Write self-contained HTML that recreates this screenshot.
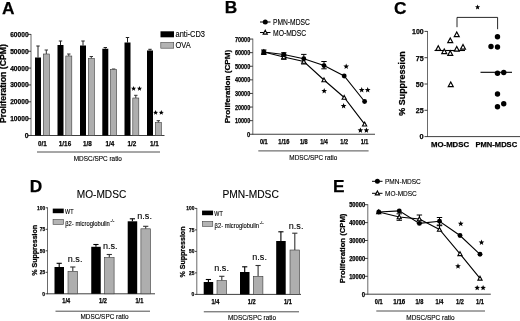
<!DOCTYPE html>
<html><head><meta charset="utf-8"><style>
html,body{margin:0;padding:0;background:#fff;}
body{width:520px;height:321px;overflow:hidden;font-family:"Liberation Sans",sans-serif;}
svg{display:block;will-change:transform;}
</style></head><body>
<svg width="520" height="321" viewBox="0 0 520 321">
<rect x="0" y="0" width="520" height="321" fill="#fff"/>
<text x="1.9" y="14" font-size="17.3" font-family="Liberation Sans, sans-serif" text-anchor="start" fill="#000" font-weight="bold" stroke="#000" stroke-width="0.25" >A</text>
<line x1="31" y1="33.99999999999999" x2="31" y2="135.9" stroke="#444" stroke-width="0.8"/>
<line x1="28" y1="135.5" x2="164.5" y2="135.5" stroke="#2a2a2a" stroke-width="0.9"/>
<text x="28.6" y="137.9" font-size="7.4" font-family="Liberation Sans, sans-serif" text-anchor="end" fill="#000" font-weight="bold" stroke="#000" stroke-width="0.25" textLength="3.8" lengthAdjust="spacingAndGlyphs" >0</text>
<line x1="28" y1="118.65" x2="31" y2="118.65" stroke="#2a2a2a" stroke-width="0.9"/>
<text x="28.6" y="121.05000000000001" font-size="7.4" font-family="Liberation Sans, sans-serif" text-anchor="end" fill="#000" font-weight="bold" stroke="#000" stroke-width="0.25" textLength="18.4" lengthAdjust="spacingAndGlyphs" >10000</text>
<line x1="28" y1="101.8" x2="31" y2="101.8" stroke="#2a2a2a" stroke-width="0.9"/>
<text x="28.6" y="104.2" font-size="7.4" font-family="Liberation Sans, sans-serif" text-anchor="end" fill="#000" font-weight="bold" stroke="#000" stroke-width="0.25" textLength="18.4" lengthAdjust="spacingAndGlyphs" >20000</text>
<line x1="28" y1="84.94999999999999" x2="31" y2="84.94999999999999" stroke="#2a2a2a" stroke-width="0.9"/>
<text x="28.6" y="87.35" font-size="7.4" font-family="Liberation Sans, sans-serif" text-anchor="end" fill="#000" font-weight="bold" stroke="#000" stroke-width="0.25" textLength="18.4" lengthAdjust="spacingAndGlyphs" >30000</text>
<line x1="28" y1="68.1" x2="31" y2="68.1" stroke="#2a2a2a" stroke-width="0.9"/>
<text x="28.6" y="70.5" font-size="7.4" font-family="Liberation Sans, sans-serif" text-anchor="end" fill="#000" font-weight="bold" stroke="#000" stroke-width="0.25" textLength="18.4" lengthAdjust="spacingAndGlyphs" >40000</text>
<line x1="28" y1="51.25" x2="31" y2="51.25" stroke="#2a2a2a" stroke-width="0.9"/>
<text x="28.6" y="53.65" font-size="7.4" font-family="Liberation Sans, sans-serif" text-anchor="end" fill="#000" font-weight="bold" stroke="#000" stroke-width="0.25" textLength="18.4" lengthAdjust="spacingAndGlyphs" >50000</text>
<line x1="28" y1="34.39999999999999" x2="31" y2="34.39999999999999" stroke="#2a2a2a" stroke-width="0.9"/>
<text x="28.6" y="36.79999999999999" font-size="7.4" font-family="Liberation Sans, sans-serif" text-anchor="end" fill="#000" font-weight="bold" stroke="#000" stroke-width="0.25" textLength="18.4" lengthAdjust="spacingAndGlyphs" >60000</text>
<text x="5.7" y="123" font-size="8.2" font-family="Liberation Sans, sans-serif" text-anchor="start" fill="#000" font-weight="bold" stroke="#000" stroke-width="0.25" textLength="79" lengthAdjust="spacingAndGlyphs" transform="rotate(-90 5.7 123)" >Proliferation (CPM)</text>
<line x1="38" y1="46" x2="38" y2="57.5" stroke="#222" stroke-width="1.0"/>
<line x1="36.3" y1="46" x2="39.7" y2="46" stroke="#222" stroke-width="1.0"/>
<rect x="35" y="57.5" width="6" height="78.0" fill="#000"/>
<line x1="46.3" y1="50" x2="46.3" y2="54" stroke="#333" stroke-width="1.0"/>
<line x1="44.599999999999994" y1="50" x2="48.0" y2="50" stroke="#333" stroke-width="1.0"/>
<rect x="43.3" y="54" width="6" height="81.5" fill="#aeaeae" stroke="#3a3a3a" stroke-width="0.6"/>
<line x1="60.5" y1="41" x2="60.5" y2="45" stroke="#222" stroke-width="1.0"/>
<line x1="58.8" y1="41" x2="62.2" y2="41" stroke="#222" stroke-width="1.0"/>
<rect x="57.5" y="45" width="6" height="90.5" fill="#000"/>
<line x1="68.8" y1="54" x2="68.8" y2="56" stroke="#333" stroke-width="1.0"/>
<line x1="67.1" y1="54" x2="70.5" y2="54" stroke="#333" stroke-width="1.0"/>
<rect x="65.8" y="56" width="6" height="79.5" fill="#aeaeae" stroke="#3a3a3a" stroke-width="0.6"/>
<line x1="83" y1="41" x2="83" y2="45.5" stroke="#222" stroke-width="1.0"/>
<line x1="81.3" y1="41" x2="84.7" y2="41" stroke="#222" stroke-width="1.0"/>
<rect x="80" y="45.5" width="6" height="90.0" fill="#000"/>
<line x1="91.3" y1="56.5" x2="91.3" y2="58.5" stroke="#333" stroke-width="1.0"/>
<line x1="89.6" y1="56.5" x2="93.0" y2="56.5" stroke="#333" stroke-width="1.0"/>
<rect x="88.3" y="58.5" width="6" height="77.0" fill="#aeaeae" stroke="#3a3a3a" stroke-width="0.6"/>
<line x1="105.3" y1="47.5" x2="105.3" y2="48.75" stroke="#222" stroke-width="1.0"/>
<line x1="103.6" y1="47.5" x2="107.0" y2="47.5" stroke="#222" stroke-width="1.0"/>
<rect x="102.3" y="48.75" width="6" height="86.75" fill="#000"/>
<line x1="113.6" y1="69" x2="113.6" y2="69.5" stroke="#333" stroke-width="1.0"/>
<line x1="111.89999999999999" y1="69" x2="115.3" y2="69" stroke="#333" stroke-width="1.0"/>
<rect x="110.6" y="69.5" width="6" height="66.0" fill="#aeaeae" stroke="#3a3a3a" stroke-width="0.6"/>
<line x1="127.5" y1="37.5" x2="127.5" y2="42.5" stroke="#222" stroke-width="1.0"/>
<line x1="125.8" y1="37.5" x2="129.2" y2="37.5" stroke="#222" stroke-width="1.0"/>
<rect x="124.5" y="42.5" width="6" height="93.0" fill="#000"/>
<line x1="135.8" y1="95.3" x2="135.8" y2="98" stroke="#333" stroke-width="1.0"/>
<line x1="134.10000000000002" y1="95.3" x2="137.5" y2="95.3" stroke="#333" stroke-width="1.0"/>
<rect x="132.8" y="98" width="6" height="37.5" fill="#aeaeae" stroke="#3a3a3a" stroke-width="0.6"/>
<line x1="150" y1="49.3" x2="150" y2="50.5" stroke="#222" stroke-width="1.0"/>
<line x1="148.3" y1="49.3" x2="151.7" y2="49.3" stroke="#222" stroke-width="1.0"/>
<rect x="147" y="50.5" width="6" height="85.0" fill="#000"/>
<line x1="158.3" y1="120.7" x2="158.3" y2="122.5" stroke="#333" stroke-width="1.0"/>
<line x1="156.60000000000002" y1="120.7" x2="160.0" y2="120.7" stroke="#333" stroke-width="1.0"/>
<rect x="155.3" y="122.5" width="6" height="13.0" fill="#aeaeae" stroke="#3a3a3a" stroke-width="0.6"/>
<text x="42.5" y="145.9" font-size="7.6" font-family="Liberation Sans, sans-serif" text-anchor="middle" fill="#000" font-weight="bold" stroke="#000" stroke-width="0.25" textLength="8.8" lengthAdjust="spacingAndGlyphs" >0/1</text>
<text x="65.0" y="145.9" font-size="7.6" font-family="Liberation Sans, sans-serif" text-anchor="middle" fill="#000" font-weight="bold" stroke="#000" stroke-width="0.25" textLength="12.4" lengthAdjust="spacingAndGlyphs" >1/16</text>
<text x="87.5" y="145.9" font-size="7.6" font-family="Liberation Sans, sans-serif" text-anchor="middle" fill="#000" font-weight="bold" stroke="#000" stroke-width="0.25" textLength="8.8" lengthAdjust="spacingAndGlyphs" >1/8</text>
<text x="109.8" y="145.9" font-size="7.6" font-family="Liberation Sans, sans-serif" text-anchor="middle" fill="#000" font-weight="bold" stroke="#000" stroke-width="0.25" textLength="8.8" lengthAdjust="spacingAndGlyphs" >1/4</text>
<text x="132.0" y="145.9" font-size="7.6" font-family="Liberation Sans, sans-serif" text-anchor="middle" fill="#000" font-weight="bold" stroke="#000" stroke-width="0.25" textLength="8.8" lengthAdjust="spacingAndGlyphs" >1/2</text>
<text x="154.5" y="145.9" font-size="7.6" font-family="Liberation Sans, sans-serif" text-anchor="middle" fill="#000" font-weight="bold" stroke="#000" stroke-width="0.25" textLength="8.8" lengthAdjust="spacingAndGlyphs" >1/1</text>
<line x1="37" y1="152" x2="160" y2="152" stroke="#222" stroke-width="0.8"/>
<text x="73.75" y="160.5" font-size="6.6" font-family="Liberation Sans, sans-serif" text-anchor="start" fill="#000" stroke="#000" stroke-width="0.12" textLength="48.2" lengthAdjust="spacingAndGlyphs" >MDSC/SPC ratio</text>
<polygon points="133.60,85.95 134.29,87.66 136.12,87.78 134.71,88.96 135.16,90.74 133.60,89.77 132.04,90.74 132.49,88.96 131.08,87.78 132.91,87.66" fill="#000"/>
<polygon points="139.50,85.95 140.19,87.66 142.02,87.78 140.61,88.96 141.06,90.74 139.50,89.77 137.94,90.74 138.39,88.96 136.98,87.78 138.81,87.66" fill="#000"/>
<polygon points="155.60,110.05 156.29,111.76 158.12,111.88 156.71,113.06 157.16,114.84 155.60,113.87 154.04,114.84 154.49,113.06 153.08,111.88 154.91,111.76" fill="#000"/>
<polygon points="161.30,110.05 161.99,111.76 163.82,111.88 162.41,113.06 162.86,114.84 161.30,113.87 159.74,114.84 160.19,113.06 158.78,111.88 160.61,111.76" fill="#000"/>
<rect x="160.5" y="31.3" width="13.5" height="6" fill="#000"/>
<rect x="160.8" y="42.6" width="12.9" height="5.6" fill="#b4b4b4" stroke="#444" stroke-width="0.6"/>
<text x="175.5" y="37.4" font-size="8.6" font-family="Liberation Sans, sans-serif" text-anchor="start" fill="#000" stroke="#000" stroke-width="0.12" textLength="29.5" lengthAdjust="spacingAndGlyphs" >anti-CD3</text>
<text x="175.5" y="48.3" font-size="8.6" font-family="Liberation Sans, sans-serif" text-anchor="start" fill="#000" stroke="#000" stroke-width="0.12" textLength="15.2" lengthAdjust="spacingAndGlyphs" >OVA</text>
<text x="224.7" y="13.1" font-size="17.3" font-family="Liberation Sans, sans-serif" text-anchor="start" fill="#000" font-weight="bold" stroke="#000" stroke-width="0.25" >B</text>
<line x1="252.8" y1="38.65" x2="252.8" y2="134.65" stroke="#444" stroke-width="0.8"/>
<line x1="249.8" y1="134.25" x2="375" y2="134.25" stroke="#2a2a2a" stroke-width="0.9"/>
<text x="250.2" y="136.85" font-size="7" font-family="Liberation Sans, sans-serif" text-anchor="end" fill="#000" font-weight="bold" stroke="#000" stroke-width="0.25" textLength="3.2" lengthAdjust="spacingAndGlyphs" >0</text>
<line x1="249.8" y1="120.65" x2="252.8" y2="120.65" stroke="#2a2a2a" stroke-width="0.9"/>
<text x="250.2" y="123.25" font-size="7" font-family="Liberation Sans, sans-serif" text-anchor="end" fill="#000" font-weight="bold" stroke="#000" stroke-width="0.25" textLength="15.2" lengthAdjust="spacingAndGlyphs" >10000</text>
<line x1="249.8" y1="107.05" x2="252.8" y2="107.05" stroke="#2a2a2a" stroke-width="0.9"/>
<text x="250.2" y="109.64999999999999" font-size="7" font-family="Liberation Sans, sans-serif" text-anchor="end" fill="#000" font-weight="bold" stroke="#000" stroke-width="0.25" textLength="15.2" lengthAdjust="spacingAndGlyphs" >20000</text>
<line x1="249.8" y1="93.45" x2="252.8" y2="93.45" stroke="#2a2a2a" stroke-width="0.9"/>
<text x="250.2" y="96.05" font-size="7" font-family="Liberation Sans, sans-serif" text-anchor="end" fill="#000" font-weight="bold" stroke="#000" stroke-width="0.25" textLength="15.2" lengthAdjust="spacingAndGlyphs" >30000</text>
<line x1="249.8" y1="79.85" x2="252.8" y2="79.85" stroke="#2a2a2a" stroke-width="0.9"/>
<text x="250.2" y="82.44999999999999" font-size="7" font-family="Liberation Sans, sans-serif" text-anchor="end" fill="#000" font-weight="bold" stroke="#000" stroke-width="0.25" textLength="15.2" lengthAdjust="spacingAndGlyphs" >40000</text>
<line x1="249.8" y1="66.25" x2="252.8" y2="66.25" stroke="#2a2a2a" stroke-width="0.9"/>
<text x="250.2" y="68.85" font-size="7" font-family="Liberation Sans, sans-serif" text-anchor="end" fill="#000" font-weight="bold" stroke="#000" stroke-width="0.25" textLength="15.2" lengthAdjust="spacingAndGlyphs" >50000</text>
<line x1="249.8" y1="52.650000000000006" x2="252.8" y2="52.650000000000006" stroke="#2a2a2a" stroke-width="0.9"/>
<text x="250.2" y="55.25000000000001" font-size="7" font-family="Liberation Sans, sans-serif" text-anchor="end" fill="#000" font-weight="bold" stroke="#000" stroke-width="0.25" textLength="15.2" lengthAdjust="spacingAndGlyphs" >60000</text>
<line x1="249.8" y1="39.05" x2="252.8" y2="39.05" stroke="#2a2a2a" stroke-width="0.9"/>
<text x="250.2" y="41.65" font-size="7" font-family="Liberation Sans, sans-serif" text-anchor="end" fill="#000" font-weight="bold" stroke="#000" stroke-width="0.25" textLength="15.2" lengthAdjust="spacingAndGlyphs" >70000</text>
<text x="230.3" y="123.3" font-size="7.6" font-family="Liberation Sans, sans-serif" text-anchor="start" fill="#000" font-weight="bold" stroke="#000" stroke-width="0.25" textLength="73.5" lengthAdjust="spacingAndGlyphs" transform="rotate(-90 230.3 123.3)" >Proliferation (CPM)</text>
<polyline points="263.8,52 283.8,54.5 303.8,58.8 324,65.6 344.2,76 364.6,101.5" fill="none" stroke="#000" stroke-width="1.1"/>
<polyline points="263.8,52 283.8,57 303.8,61.5 324,80 344.2,97.5 364.6,124.2" fill="none" stroke="#000" stroke-width="1.1"/>
<line x1="263.8" y1="50" x2="263.8" y2="54.5" stroke="#000" stroke-width="1.0"/>
<line x1="261.1" y1="50" x2="266.5" y2="50" stroke="#000" stroke-width="1.0"/>
<line x1="261.1" y1="54.5" x2="266.5" y2="54.5" stroke="#000" stroke-width="1.0"/>
<line x1="283.8" y1="52.8" x2="283.8" y2="56.2" stroke="#000" stroke-width="1.0"/>
<line x1="281.1" y1="52.8" x2="286.5" y2="52.8" stroke="#000" stroke-width="1.0"/>
<line x1="281.1" y1="56.2" x2="286.5" y2="56.2" stroke="#000" stroke-width="1.0"/>
<line x1="283.8" y1="55.3" x2="283.8" y2="59.3" stroke="#000" stroke-width="1.0"/>
<line x1="281.1" y1="55.3" x2="286.5" y2="55.3" stroke="#000" stroke-width="1.0"/>
<line x1="281.1" y1="59.3" x2="286.5" y2="59.3" stroke="#000" stroke-width="1.0"/>
<line x1="303.8" y1="54.4" x2="303.8" y2="64" stroke="#000" stroke-width="1.0"/>
<line x1="301.1" y1="54.4" x2="306.5" y2="54.4" stroke="#000" stroke-width="1.0"/>
<line x1="301.1" y1="64" x2="306.5" y2="64" stroke="#000" stroke-width="1.0"/>
<line x1="324" y1="61.5" x2="324" y2="68.8" stroke="#000" stroke-width="1.0"/>
<line x1="321.3" y1="61.5" x2="326.7" y2="61.5" stroke="#000" stroke-width="1.0"/>
<line x1="321.3" y1="68.8" x2="326.7" y2="68.8" stroke="#000" stroke-width="1.0"/>
<polygon points="263.8,49.9 265.90000000000003,53.785 261.7,53.785" fill="#fff" stroke="#000" stroke-width="1.1" stroke-linejoin="miter"/>
<polygon points="283.8,54.9 285.90000000000003,58.785 281.7,58.785" fill="#fff" stroke="#000" stroke-width="1.1" stroke-linejoin="miter"/>
<polygon points="303.8,59.4 305.90000000000003,63.285 301.7,63.285" fill="#fff" stroke="#000" stroke-width="1.1" stroke-linejoin="miter"/>
<polygon points="324,77.9 326.1,81.785 321.9,81.785" fill="#fff" stroke="#000" stroke-width="1.1" stroke-linejoin="miter"/>
<polygon points="344.2,95.4 346.3,99.285 342.09999999999997,99.285" fill="#fff" stroke="#000" stroke-width="1.1" stroke-linejoin="miter"/>
<polygon points="364.6,122.10000000000001 366.70000000000005,125.985 362.5,125.985" fill="#fff" stroke="#000" stroke-width="1.1" stroke-linejoin="miter"/>
<circle cx="263.8" cy="52" r="2.45" fill="#000"/>
<circle cx="283.8" cy="54.5" r="2.45" fill="#000"/>
<circle cx="303.8" cy="58.8" r="2.45" fill="#000"/>
<circle cx="324" cy="65.6" r="2.45" fill="#000"/>
<circle cx="344.2" cy="76" r="2.45" fill="#000"/>
<circle cx="364.6" cy="101.5" r="2.45" fill="#000"/>
<polygon points="346.20,63.55 346.96,65.45 349.01,65.59 347.43,66.90 347.93,68.89 346.20,67.80 344.47,68.89 344.97,66.90 343.39,65.59 345.44,65.45" fill="#000"/>
<polygon points="324.20,88.05 324.96,89.95 327.01,90.09 325.43,91.40 325.93,93.39 324.20,92.30 322.47,93.39 322.97,91.40 321.39,90.09 323.44,89.95" fill="#000"/>
<polygon points="343.60,103.05 344.36,104.95 346.41,105.09 344.83,106.40 345.33,108.39 343.60,107.30 341.87,108.39 342.37,106.40 340.79,105.09 342.84,104.95" fill="#000"/>
<polygon points="361.70,87.05 362.46,88.95 364.51,89.09 362.93,90.40 363.43,92.39 361.70,91.30 359.97,92.39 360.47,90.40 358.89,89.09 360.94,88.95" fill="#000"/>
<polygon points="367.70,87.05 368.46,88.95 370.51,89.09 368.93,90.40 369.43,92.39 367.70,91.30 365.97,92.39 366.47,90.40 364.89,89.09 366.94,88.95" fill="#000"/>
<polygon points="360.40,127.45 361.16,129.35 363.21,129.49 361.63,130.80 362.13,132.79 360.40,131.70 358.67,132.79 359.17,130.80 357.59,129.49 359.64,129.35" fill="#000"/>
<polygon points="366.40,127.45 367.16,129.35 369.21,129.49 367.63,130.80 368.13,132.79 366.40,131.70 364.67,132.79 365.17,130.80 363.59,129.49 365.64,129.35" fill="#000"/>
<text x="263.8" y="143.8" font-size="6.7" font-family="Liberation Sans, sans-serif" text-anchor="middle" fill="#000" font-weight="bold" stroke="#000" stroke-width="0.25" textLength="7.7" lengthAdjust="spacingAndGlyphs" >0/1</text>
<text x="283.8" y="143.8" font-size="6.7" font-family="Liberation Sans, sans-serif" text-anchor="middle" fill="#000" font-weight="bold" stroke="#000" stroke-width="0.25" textLength="11.2" lengthAdjust="spacingAndGlyphs" >1/16</text>
<text x="303.8" y="143.8" font-size="6.7" font-family="Liberation Sans, sans-serif" text-anchor="middle" fill="#000" font-weight="bold" stroke="#000" stroke-width="0.25" textLength="7.7" lengthAdjust="spacingAndGlyphs" >1/8</text>
<text x="324" y="143.8" font-size="6.7" font-family="Liberation Sans, sans-serif" text-anchor="middle" fill="#000" font-weight="bold" stroke="#000" stroke-width="0.25" textLength="7.7" lengthAdjust="spacingAndGlyphs" >1/4</text>
<text x="344.2" y="143.8" font-size="6.7" font-family="Liberation Sans, sans-serif" text-anchor="middle" fill="#000" font-weight="bold" stroke="#000" stroke-width="0.25" textLength="7.7" lengthAdjust="spacingAndGlyphs" >1/2</text>
<text x="364.6" y="143.8" font-size="6.7" font-family="Liberation Sans, sans-serif" text-anchor="middle" fill="#000" font-weight="bold" stroke="#000" stroke-width="0.25" textLength="7.7" lengthAdjust="spacingAndGlyphs" >1/1</text>
<line x1="258.3" y1="150.9" x2="368.6" y2="150.9" stroke="#222" stroke-width="0.8"/>
<text x="289.3" y="159.6" font-size="6.6" font-family="Liberation Sans, sans-serif" text-anchor="start" fill="#000" stroke="#000" stroke-width="0.12" textLength="48" lengthAdjust="spacingAndGlyphs" >MDSC/SPC ratio</text>
<line x1="260" y1="22" x2="270.5" y2="22" stroke="#000" stroke-width="1"/>
<circle cx="265.25" cy="22" r="2.5" fill="#000"/>
<line x1="260" y1="32.5" x2="270.5" y2="32.5" stroke="#000" stroke-width="1"/>
<polygon points="265.25,30.199999999999996 267.35,34.084999999999994 263.15,34.084999999999994" fill="#fff" stroke="#000" stroke-width="1.1" stroke-linejoin="miter"/>
<text x="273" y="25.2" font-size="8.6" font-family="Liberation Sans, sans-serif" text-anchor="start" fill="#000" stroke="#000" stroke-width="0.12" textLength="36.8" lengthAdjust="spacingAndGlyphs" >PMN-MDSC</text>
<text x="273" y="35.7" font-size="8.6" font-family="Liberation Sans, sans-serif" text-anchor="start" fill="#000" stroke="#000" stroke-width="0.12" textLength="33.2" lengthAdjust="spacingAndGlyphs" >MO-MDSC</text>
<text x="393.9" y="13.6" font-size="17.3" font-family="Liberation Sans, sans-serif" text-anchor="start" fill="#000" font-weight="bold" stroke="#000" stroke-width="0.25" >C</text>
<line x1="427.5" y1="30.999999999999993" x2="427.5" y2="137.0" stroke="#444" stroke-width="0.8"/>
<line x1="424.5" y1="136.6" x2="520" y2="136.6" stroke="#2a2a2a" stroke-width="0.9"/>
<text x="423.7" y="139.4" font-size="7.7" font-family="Liberation Sans, sans-serif" text-anchor="end" fill="#000" font-weight="bold" stroke="#000" stroke-width="0.25" textLength="4.1" lengthAdjust="spacingAndGlyphs" >0</text>
<line x1="424.5" y1="110.3" x2="427.5" y2="110.3" stroke="#2a2a2a" stroke-width="0.9"/>
<text x="423.7" y="113.1" font-size="7.7" font-family="Liberation Sans, sans-serif" text-anchor="end" fill="#000" font-weight="bold" stroke="#000" stroke-width="0.25" textLength="7.9" lengthAdjust="spacingAndGlyphs" >25</text>
<line x1="424.5" y1="84.0" x2="427.5" y2="84.0" stroke="#2a2a2a" stroke-width="0.9"/>
<text x="423.7" y="86.8" font-size="7.7" font-family="Liberation Sans, sans-serif" text-anchor="end" fill="#000" font-weight="bold" stroke="#000" stroke-width="0.25" textLength="7.9" lengthAdjust="spacingAndGlyphs" >50</text>
<line x1="424.5" y1="57.69999999999999" x2="427.5" y2="57.69999999999999" stroke="#2a2a2a" stroke-width="0.9"/>
<text x="423.7" y="60.499999999999986" font-size="7.7" font-family="Liberation Sans, sans-serif" text-anchor="end" fill="#000" font-weight="bold" stroke="#000" stroke-width="0.25" textLength="7.9" lengthAdjust="spacingAndGlyphs" >75</text>
<line x1="424.5" y1="31.39999999999999" x2="427.5" y2="31.39999999999999" stroke="#2a2a2a" stroke-width="0.9"/>
<text x="423.7" y="34.19999999999999" font-size="7.7" font-family="Liberation Sans, sans-serif" text-anchor="end" fill="#000" font-weight="bold" stroke="#000" stroke-width="0.25" textLength="11.6" lengthAdjust="spacingAndGlyphs" >100</text>
<text x="404.8" y="115.7" font-size="8.4" font-family="Liberation Sans, sans-serif" text-anchor="start" fill="#000" font-weight="bold" stroke="#000" stroke-width="0.25" textLength="64.5" lengthAdjust="spacingAndGlyphs" transform="rotate(-90 404.8 115.7)" >% Suppression</text>
<line x1="434.5" y1="50.5" x2="465" y2="50.5" stroke="#000" stroke-width="1.1"/>
<line x1="480.5" y1="72.3" x2="512" y2="72.3" stroke="#000" stroke-width="1.1"/>
<polygon points="456.75,32.05 459.2,36.5825 454.3,36.5825" fill="#fff" stroke="#000" stroke-width="1.2" stroke-linejoin="miter"/>
<polygon points="450.25,38.05 452.7,42.5825 447.8,42.5825" fill="#fff" stroke="#000" stroke-width="1.2" stroke-linejoin="miter"/>
<polygon points="438.25,45.8 440.7,50.3325 435.8,50.3325" fill="#fff" stroke="#000" stroke-width="1.2" stroke-linejoin="miter"/>
<polygon points="444.25,49.05 446.7,53.5825 441.8,53.5825" fill="#fff" stroke="#000" stroke-width="1.2" stroke-linejoin="miter"/>
<polygon points="450.25,50.8 452.7,55.3325 447.8,55.3325" fill="#fff" stroke="#000" stroke-width="1.2" stroke-linejoin="miter"/>
<polygon points="456.75,46.55 459.2,51.0825 454.3,51.0825" fill="#fff" stroke="#000" stroke-width="1.2" stroke-linejoin="miter"/>
<polygon points="463,44.55 465.45,49.0825 460.55,49.0825" fill="#fff" stroke="#000" stroke-width="1.2" stroke-linejoin="miter"/>
<polygon points="450.75,82.05 453.2,86.5825 448.3,86.5825" fill="#fff" stroke="#000" stroke-width="1.2" stroke-linejoin="miter"/>
<circle cx="497.5" cy="36.75" r="2.7" fill="#000"/>
<circle cx="491" cy="46.5" r="2.7" fill="#000"/>
<circle cx="497.5" cy="47" r="2.7" fill="#000"/>
<circle cx="497.5" cy="73.25" r="2.7" fill="#000"/>
<circle cx="503.75" cy="72.5" r="2.7" fill="#000"/>
<circle cx="497.5" cy="94" r="2.7" fill="#000"/>
<circle cx="497.5" cy="106.75" r="2.7" fill="#000"/>
<circle cx="503.75" cy="103.75" r="2.7" fill="#000"/>
<polyline points="457,27.2 457,17.4 497.6,17.4 497.6,29.2" fill="none" stroke="#000" stroke-width="0.85"/>
<polygon points="477.60,4.50 478.30,6.24 480.17,6.37 478.73,7.57 479.19,9.38 477.60,8.39 476.01,9.38 476.47,7.57 475.03,6.37 476.90,6.24" fill="#000"/>
<text x="431.1" y="147.3" font-size="8.1" font-family="Liberation Sans, sans-serif" text-anchor="start" fill="#000" font-weight="bold" stroke="#000" stroke-width="0.25" textLength="37.9" lengthAdjust="spacingAndGlyphs" >MO-MDSC</text>
<text x="475.5" y="147.3" font-size="8.1" font-family="Liberation Sans, sans-serif" text-anchor="start" fill="#000" font-weight="bold" stroke="#000" stroke-width="0.25" textLength="41.6" lengthAdjust="spacingAndGlyphs" >PMN-MDSC</text>
<text x="29.7" y="191.6" font-size="17.3" font-family="Liberation Sans, sans-serif" text-anchor="start" fill="#000" font-weight="bold" stroke="#000" stroke-width="0.25" >D</text>
<text x="76.75" y="198" font-size="11.1" font-family="Liberation Sans, sans-serif" text-anchor="start" fill="#000" stroke="#000" stroke-width="0.12" textLength="49.5" lengthAdjust="spacingAndGlyphs" >MO-MDSC</text>
<text x="222.5" y="198" font-size="11.1" font-family="Liberation Sans, sans-serif" text-anchor="start" fill="#000" stroke="#000" stroke-width="0.12" textLength="56.3" lengthAdjust="spacingAndGlyphs" >PMN-MDSC</text>
<line x1="47.5" y1="207.4" x2="47.5" y2="294.2" stroke="#444" stroke-width="0.8"/>
<line x1="45.5" y1="293.8" x2="155" y2="293.8" stroke="#2a2a2a" stroke-width="0.9"/>
<text x="45.1" y="295.7" font-size="6.2" font-family="Liberation Sans, sans-serif" text-anchor="end" fill="#000" font-weight="bold" stroke="#000" stroke-width="0.25" textLength="2.8" lengthAdjust="spacingAndGlyphs" >0</text>
<line x1="45.7" y1="272.3" x2="47.5" y2="272.3" stroke="#2a2a2a" stroke-width="0.9"/>
<text x="45.1" y="274.2" font-size="6.2" font-family="Liberation Sans, sans-serif" text-anchor="end" fill="#000" font-weight="bold" stroke="#000" stroke-width="0.25" textLength="5.4" lengthAdjust="spacingAndGlyphs" >25</text>
<line x1="45.7" y1="250.8" x2="47.5" y2="250.8" stroke="#2a2a2a" stroke-width="0.9"/>
<text x="45.1" y="252.70000000000002" font-size="6.2" font-family="Liberation Sans, sans-serif" text-anchor="end" fill="#000" font-weight="bold" stroke="#000" stroke-width="0.25" textLength="5.4" lengthAdjust="spacingAndGlyphs" >50</text>
<line x1="45.7" y1="229.3" x2="47.5" y2="229.3" stroke="#2a2a2a" stroke-width="0.9"/>
<text x="45.1" y="231.20000000000002" font-size="6.2" font-family="Liberation Sans, sans-serif" text-anchor="end" fill="#000" font-weight="bold" stroke="#000" stroke-width="0.25" textLength="5.4" lengthAdjust="spacingAndGlyphs" >75</text>
<line x1="45.7" y1="207.8" x2="47.5" y2="207.8" stroke="#2a2a2a" stroke-width="0.9"/>
<text x="45.1" y="209.70000000000002" font-size="6.2" font-family="Liberation Sans, sans-serif" text-anchor="end" fill="#000" font-weight="bold" stroke="#000" stroke-width="0.25" textLength="8.1" lengthAdjust="spacingAndGlyphs" >100</text>
<text x="36.699999999999996" y="275.8" font-size="7.0" font-family="Liberation Sans, sans-serif" text-anchor="start" fill="#000" font-weight="bold" stroke="#000" stroke-width="0.25" textLength="51" lengthAdjust="spacingAndGlyphs" transform="rotate(-90 36.699999999999996 275.8)" >% Suppression</text>
<rect x="52.75" y="208.6" width="11" height="4.6" fill="#000"/>
<rect x="53.05" y="219.4" width="10.4" height="5" fill="#b4b4b4" stroke="#444" stroke-width="0.6"/>
<text x="65.05" y="213.9" font-size="6.9" font-family="Liberation Sans, sans-serif" text-anchor="start" fill="#000" stroke="#000" stroke-width="0.12" textLength="8.4" lengthAdjust="spacingAndGlyphs" >WT</text>
<text x="65.25" y="225.79999999999998" font-size="6.7" font-family="Liberation Sans, sans-serif" text-anchor="start" fill="#000" stroke="#000" stroke-width="0.12" textLength="44.5" lengthAdjust="spacingAndGlyphs" >β2- microglobulin</text>
<text x="110.45" y="222.2" font-size="3.4" font-family="Liberation Sans, sans-serif" text-anchor="start" fill="#444" stroke="#000" stroke-width="0.12" textLength="3.8" lengthAdjust="spacingAndGlyphs" >-/-</text>
<line x1="59.2" y1="263.3" x2="59.2" y2="267" stroke="#000" stroke-width="1.1"/>
<line x1="56.6" y1="263.3" x2="61.800000000000004" y2="263.3" stroke="#000" stroke-width="1.1"/>
<rect x="54.5" y="267" width="9.5" height="26.80000000000001" fill="#000"/>
<line x1="72.8" y1="267" x2="72.8" y2="271.3" stroke="#333" stroke-width="1.1"/>
<line x1="70.2" y1="267" x2="75.39999999999999" y2="267" stroke="#333" stroke-width="1.1"/>
<rect x="68" y="271.3" width="9.6" height="22.5" fill="#aeaeae" stroke="#3a3a3a" stroke-width="0.6"/>
<line x1="95.95" y1="244.5" x2="95.95" y2="246.8" stroke="#000" stroke-width="1.1"/>
<line x1="93.35000000000001" y1="244.5" x2="98.55" y2="244.5" stroke="#000" stroke-width="1.1"/>
<rect x="91.25" y="246.8" width="9.5" height="47.0" fill="#000"/>
<line x1="109.3" y1="254.5" x2="109.3" y2="257.5" stroke="#333" stroke-width="1.1"/>
<line x1="106.7" y1="254.5" x2="111.89999999999999" y2="254.5" stroke="#333" stroke-width="1.1"/>
<rect x="104.5" y="257.5" width="9.6" height="36.30000000000001" fill="#aeaeae" stroke="#3a3a3a" stroke-width="0.6"/>
<line x1="132.4" y1="218.8" x2="132.4" y2="221.3" stroke="#000" stroke-width="1.1"/>
<line x1="129.8" y1="218.8" x2="135.0" y2="218.8" stroke="#000" stroke-width="1.1"/>
<rect x="127.7" y="221.3" width="9.5" height="72.5" fill="#000"/>
<line x1="145.70000000000002" y1="226.3" x2="145.70000000000002" y2="228.8" stroke="#333" stroke-width="1.1"/>
<line x1="143.10000000000002" y1="226.3" x2="148.3" y2="226.3" stroke="#333" stroke-width="1.1"/>
<rect x="140.9" y="228.8" width="9.6" height="65.0" fill="#aeaeae" stroke="#3a3a3a" stroke-width="0.6"/>
<text x="67.8" y="261.5" font-size="9.6" font-family="Liberation Sans, sans-serif" text-anchor="start" fill="#000" stroke="#000" stroke-width="0.12" textLength="14.6" lengthAdjust="spacingAndGlyphs" >n.s.</text>
<text x="103.0" y="248.7" font-size="9.6" font-family="Liberation Sans, sans-serif" text-anchor="start" fill="#000" stroke="#000" stroke-width="0.12" textLength="14.6" lengthAdjust="spacingAndGlyphs" >n.s.</text>
<text x="137.3" y="218.7" font-size="9.6" font-family="Liberation Sans, sans-serif" text-anchor="start" fill="#000" stroke="#000" stroke-width="0.12" textLength="14.6" lengthAdjust="spacingAndGlyphs" >n.s.</text>
<text x="66.2" y="303.2" font-size="6.4" font-family="Liberation Sans, sans-serif" text-anchor="middle" fill="#000" font-weight="bold" stroke="#000" stroke-width="0.25" textLength="7.8" lengthAdjust="spacingAndGlyphs" >1/4</text>
<text x="102.95" y="303.2" font-size="6.4" font-family="Liberation Sans, sans-serif" text-anchor="middle" fill="#000" font-weight="bold" stroke="#000" stroke-width="0.25" textLength="7.8" lengthAdjust="spacingAndGlyphs" >1/2</text>
<text x="139.4" y="303.2" font-size="6.4" font-family="Liberation Sans, sans-serif" text-anchor="middle" fill="#000" font-weight="bold" stroke="#000" stroke-width="0.25" textLength="7.8" lengthAdjust="spacingAndGlyphs" >1/1</text>
<line x1="55.5" y1="311.2" x2="150" y2="311.2" stroke="#222" stroke-width="0.8"/>
<text x="80.5" y="319.40000000000003" font-size="6.6" font-family="Liberation Sans, sans-serif" text-anchor="start" fill="#000" stroke="#000" stroke-width="0.12" textLength="48" lengthAdjust="spacingAndGlyphs" >MDSC/SPC ratio</text>
<line x1="196.8" y1="207.99999999999997" x2="196.8" y2="294.79999999999995" stroke="#444" stroke-width="0.8"/>
<line x1="194.8" y1="294.4" x2="301" y2="294.4" stroke="#2a2a2a" stroke-width="0.9"/>
<text x="194.4" y="296.29999999999995" font-size="6.2" font-family="Liberation Sans, sans-serif" text-anchor="end" fill="#000" font-weight="bold" stroke="#000" stroke-width="0.25" textLength="2.8" lengthAdjust="spacingAndGlyphs" >0</text>
<line x1="195.0" y1="272.9" x2="196.8" y2="272.9" stroke="#2a2a2a" stroke-width="0.9"/>
<text x="194.4" y="274.79999999999995" font-size="6.2" font-family="Liberation Sans, sans-serif" text-anchor="end" fill="#000" font-weight="bold" stroke="#000" stroke-width="0.25" textLength="5.4" lengthAdjust="spacingAndGlyphs" >25</text>
<line x1="195.0" y1="251.39999999999998" x2="196.8" y2="251.39999999999998" stroke="#2a2a2a" stroke-width="0.9"/>
<text x="194.4" y="253.29999999999998" font-size="6.2" font-family="Liberation Sans, sans-serif" text-anchor="end" fill="#000" font-weight="bold" stroke="#000" stroke-width="0.25" textLength="5.4" lengthAdjust="spacingAndGlyphs" >50</text>
<line x1="195.0" y1="229.89999999999998" x2="196.8" y2="229.89999999999998" stroke="#2a2a2a" stroke-width="0.9"/>
<text x="194.4" y="231.79999999999998" font-size="6.2" font-family="Liberation Sans, sans-serif" text-anchor="end" fill="#000" font-weight="bold" stroke="#000" stroke-width="0.25" textLength="5.4" lengthAdjust="spacingAndGlyphs" >75</text>
<line x1="195.0" y1="208.39999999999998" x2="196.8" y2="208.39999999999998" stroke="#2a2a2a" stroke-width="0.9"/>
<text x="194.4" y="210.29999999999998" font-size="6.2" font-family="Liberation Sans, sans-serif" text-anchor="end" fill="#000" font-weight="bold" stroke="#000" stroke-width="0.25" textLength="8.1" lengthAdjust="spacingAndGlyphs" >100</text>
<text x="184.9" y="277.5" font-size="7.0" font-family="Liberation Sans, sans-serif" text-anchor="start" fill="#000" font-weight="bold" stroke="#000" stroke-width="0.25" textLength="51" lengthAdjust="spacingAndGlyphs" transform="rotate(-90 184.9 277.5)" >% Suppression</text>
<rect x="202.05" y="210.6" width="11" height="4.6" fill="#000"/>
<rect x="202.35000000000002" y="221.4" width="10.4" height="5" fill="#b4b4b4" stroke="#444" stroke-width="0.6"/>
<text x="214.35000000000002" y="215.9" font-size="6.9" font-family="Liberation Sans, sans-serif" text-anchor="start" fill="#000" stroke="#000" stroke-width="0.12" textLength="8.4" lengthAdjust="spacingAndGlyphs" >WT</text>
<text x="214.55" y="227.79999999999998" font-size="6.7" font-family="Liberation Sans, sans-serif" text-anchor="start" fill="#000" stroke="#000" stroke-width="0.12" textLength="44.5" lengthAdjust="spacingAndGlyphs" >β2- microglobulin</text>
<text x="259.75" y="224.2" font-size="3.4" font-family="Liberation Sans, sans-serif" text-anchor="start" fill="#444" stroke="#000" stroke-width="0.12" textLength="3.8" lengthAdjust="spacingAndGlyphs" >-/-</text>
<line x1="208.39999999999998" y1="279.5" x2="208.39999999999998" y2="282" stroke="#000" stroke-width="1.1"/>
<line x1="205.79999999999998" y1="279.5" x2="210.99999999999997" y2="279.5" stroke="#000" stroke-width="1.1"/>
<rect x="203.7" y="282" width="9.5" height="12.399999999999977" fill="#000"/>
<line x1="221.8" y1="276.3" x2="221.8" y2="280.5" stroke="#333" stroke-width="1.1"/>
<line x1="219.20000000000002" y1="276.3" x2="224.4" y2="276.3" stroke="#333" stroke-width="1.1"/>
<rect x="217" y="280.5" width="9.6" height="13.899999999999977" fill="#aeaeae" stroke="#3a3a3a" stroke-width="0.6"/>
<line x1="244.7" y1="266.8" x2="244.7" y2="272" stroke="#000" stroke-width="1.1"/>
<line x1="242.1" y1="266.8" x2="247.29999999999998" y2="266.8" stroke="#000" stroke-width="1.1"/>
<rect x="240" y="272" width="9.5" height="22.399999999999977" fill="#000"/>
<line x1="258.1" y1="265.5" x2="258.1" y2="276.3" stroke="#333" stroke-width="1.1"/>
<line x1="255.50000000000003" y1="265.5" x2="260.70000000000005" y2="265.5" stroke="#333" stroke-width="1.1"/>
<rect x="253.3" y="276.3" width="9.6" height="18.099999999999966" fill="#aeaeae" stroke="#3a3a3a" stroke-width="0.6"/>
<line x1="280.9" y1="231.8" x2="280.9" y2="241" stroke="#000" stroke-width="1.1"/>
<line x1="278.29999999999995" y1="231.8" x2="283.5" y2="231.8" stroke="#000" stroke-width="1.1"/>
<rect x="276.2" y="241" width="9.5" height="53.39999999999998" fill="#000"/>
<line x1="294.8" y1="233.2" x2="294.8" y2="250" stroke="#333" stroke-width="1.1"/>
<line x1="292.2" y1="233.2" x2="297.40000000000003" y2="233.2" stroke="#333" stroke-width="1.1"/>
<rect x="290" y="250" width="9.6" height="44.39999999999998" fill="#aeaeae" stroke="#3a3a3a" stroke-width="0.6"/>
<text x="214.3" y="271.2" font-size="9.6" font-family="Liberation Sans, sans-serif" text-anchor="start" fill="#000" stroke="#000" stroke-width="0.12" textLength="14.6" lengthAdjust="spacingAndGlyphs" >n.s.</text>
<text x="252.3" y="260.2" font-size="9.6" font-family="Liberation Sans, sans-serif" text-anchor="start" fill="#000" stroke="#000" stroke-width="0.12" textLength="14.6" lengthAdjust="spacingAndGlyphs" >n.s.</text>
<text x="288.8" y="228.79999999999998" font-size="9.6" font-family="Liberation Sans, sans-serif" text-anchor="start" fill="#000" stroke="#000" stroke-width="0.12" textLength="14.6" lengthAdjust="spacingAndGlyphs" >n.s.</text>
<text x="215.39999999999998" y="303.79999999999995" font-size="6.4" font-family="Liberation Sans, sans-serif" text-anchor="middle" fill="#000" font-weight="bold" stroke="#000" stroke-width="0.25" textLength="7.8" lengthAdjust="spacingAndGlyphs" >1/4</text>
<text x="251.7" y="303.79999999999995" font-size="6.4" font-family="Liberation Sans, sans-serif" text-anchor="middle" fill="#000" font-weight="bold" stroke="#000" stroke-width="0.25" textLength="7.8" lengthAdjust="spacingAndGlyphs" >1/2</text>
<text x="287.9" y="303.79999999999995" font-size="6.4" font-family="Liberation Sans, sans-serif" text-anchor="middle" fill="#000" font-weight="bold" stroke="#000" stroke-width="0.25" textLength="7.8" lengthAdjust="spacingAndGlyphs" >1/1</text>
<line x1="203.8" y1="311.79999999999995" x2="299" y2="311.79999999999995" stroke="#222" stroke-width="0.8"/>
<text x="228" y="320.0" font-size="6.6" font-family="Liberation Sans, sans-serif" text-anchor="start" fill="#000" stroke="#000" stroke-width="0.12" textLength="48" lengthAdjust="spacingAndGlyphs" >MDSC/SPC ratio</text>
<text x="332.9" y="191.7" font-size="17.3" font-family="Liberation Sans, sans-serif" text-anchor="start" fill="#000" font-weight="bold" stroke="#000" stroke-width="0.25" >E</text>
<line x1="367.8" y1="204.29999999999998" x2="367.8" y2="294.59999999999997" stroke="#444" stroke-width="0.8"/>
<line x1="364.8" y1="294.2" x2="490.8" y2="294.2" stroke="#2a2a2a" stroke-width="0.9"/>
<text x="365.1" y="296.5" font-size="6.3" font-family="Liberation Sans, sans-serif" text-anchor="end" fill="#000" font-weight="bold" stroke="#000" stroke-width="0.25" textLength="3.3" lengthAdjust="spacingAndGlyphs" >0</text>
<line x1="364.8" y1="276.3" x2="367.8" y2="276.3" stroke="#2a2a2a" stroke-width="0.9"/>
<text x="365.1" y="278.6" font-size="6.3" font-family="Liberation Sans, sans-serif" text-anchor="end" fill="#000" font-weight="bold" stroke="#000" stroke-width="0.25" textLength="15.9" lengthAdjust="spacingAndGlyphs" >10000</text>
<line x1="364.8" y1="258.4" x2="367.8" y2="258.4" stroke="#2a2a2a" stroke-width="0.9"/>
<text x="365.1" y="260.7" font-size="6.3" font-family="Liberation Sans, sans-serif" text-anchor="end" fill="#000" font-weight="bold" stroke="#000" stroke-width="0.25" textLength="15.9" lengthAdjust="spacingAndGlyphs" >20000</text>
<line x1="364.8" y1="240.5" x2="367.8" y2="240.5" stroke="#2a2a2a" stroke-width="0.9"/>
<text x="365.1" y="242.8" font-size="6.3" font-family="Liberation Sans, sans-serif" text-anchor="end" fill="#000" font-weight="bold" stroke="#000" stroke-width="0.25" textLength="15.9" lengthAdjust="spacingAndGlyphs" >30000</text>
<line x1="364.8" y1="222.6" x2="367.8" y2="222.6" stroke="#2a2a2a" stroke-width="0.9"/>
<text x="365.1" y="224.9" font-size="6.3" font-family="Liberation Sans, sans-serif" text-anchor="end" fill="#000" font-weight="bold" stroke="#000" stroke-width="0.25" textLength="15.9" lengthAdjust="spacingAndGlyphs" >40000</text>
<line x1="364.8" y1="204.7" x2="367.8" y2="204.7" stroke="#2a2a2a" stroke-width="0.9"/>
<text x="365.1" y="207.0" font-size="6.3" font-family="Liberation Sans, sans-serif" text-anchor="end" fill="#000" font-weight="bold" stroke="#000" stroke-width="0.25" textLength="15.9" lengthAdjust="spacingAndGlyphs" >50000</text>
<text x="345.2" y="283.2" font-size="7.3" font-family="Liberation Sans, sans-serif" text-anchor="start" fill="#000" font-weight="bold" stroke="#000" stroke-width="0.25" textLength="69.6" lengthAdjust="spacingAndGlyphs" transform="rotate(-90 345.2 283.2)" >Proliferation (CPM)</text>
<polyline points="378.75,212 399.25,210.9 419.4,223.4 439.5,221.3 460,235.5 480,254.3" fill="none" stroke="#000" stroke-width="1.1"/>
<polyline points="378.75,212 399.25,217 419.4,219 439.5,229.5 460,253.8 480,278.3" fill="none" stroke="#000" stroke-width="1.1"/>
<line x1="399.25" y1="213.8" x2="399.25" y2="220.3" stroke="#000" stroke-width="1.0"/>
<line x1="396.55" y1="213.8" x2="401.95" y2="213.8" stroke="#000" stroke-width="1.0"/>
<line x1="396.55" y1="220.3" x2="401.95" y2="220.3" stroke="#000" stroke-width="1.0"/>
<line x1="419.4" y1="215" x2="419.4" y2="223" stroke="#000" stroke-width="1.0"/>
<line x1="416.7" y1="215" x2="422.09999999999997" y2="215" stroke="#000" stroke-width="1.0"/>
<line x1="416.7" y1="223" x2="422.09999999999997" y2="223" stroke="#000" stroke-width="1.0"/>
<line x1="439.5" y1="217.5" x2="439.5" y2="225" stroke="#000" stroke-width="1.0"/>
<line x1="436.8" y1="217.5" x2="442.2" y2="217.5" stroke="#000" stroke-width="1.0"/>
<line x1="436.8" y1="225" x2="442.2" y2="225" stroke="#000" stroke-width="1.0"/>
<line x1="439.5" y1="225.7" x2="439.5" y2="229.5" stroke="#000" stroke-width="1.0"/>
<line x1="436.8" y1="225.7" x2="442.2" y2="225.7" stroke="#000" stroke-width="1.0"/>
<polygon points="378.75,209.9 380.85,213.785 376.65,213.785" fill="#fff" stroke="#000" stroke-width="1.1" stroke-linejoin="miter"/>
<polygon points="399.25,214.9 401.35,218.785 397.15,218.785" fill="#fff" stroke="#000" stroke-width="1.1" stroke-linejoin="miter"/>
<polygon points="419.4,216.9 421.5,220.785 417.29999999999995,220.785" fill="#fff" stroke="#000" stroke-width="1.1" stroke-linejoin="miter"/>
<polygon points="439.5,227.4 441.6,231.285 437.4,231.285" fill="#fff" stroke="#000" stroke-width="1.1" stroke-linejoin="miter"/>
<polygon points="460,251.70000000000002 462.1,255.585 457.9,255.585" fill="#fff" stroke="#000" stroke-width="1.1" stroke-linejoin="miter"/>
<polygon points="480,276.2 482.1,280.08500000000004 477.9,280.08500000000004" fill="#fff" stroke="#000" stroke-width="1.1" stroke-linejoin="miter"/>
<circle cx="378.75" cy="212" r="2.45" fill="#000"/>
<circle cx="399.25" cy="210.9" r="2.45" fill="#000"/>
<circle cx="419.4" cy="223.4" r="2.45" fill="#000"/>
<circle cx="439.5" cy="221.3" r="2.45" fill="#000"/>
<circle cx="460" cy="235.5" r="2.45" fill="#000"/>
<circle cx="480" cy="254.3" r="2.45" fill="#000"/>
<polygon points="460.75,220.80 461.51,222.70 463.56,222.84 461.98,224.15 462.48,226.14 460.75,225.05 459.02,226.14 459.52,224.15 457.94,222.84 459.99,222.70" fill="#000"/>
<polygon points="481.50,239.55 482.26,241.45 484.31,241.59 482.73,242.90 483.23,244.89 481.50,243.80 479.77,244.89 480.27,242.90 478.69,241.59 480.74,241.45" fill="#000"/>
<polygon points="458.00,263.30 458.76,265.20 460.81,265.34 459.23,266.65 459.73,268.64 458.00,267.55 456.27,268.64 456.77,266.65 455.19,265.34 457.24,265.20" fill="#000"/>
<polygon points="477.20,284.95 477.96,286.85 480.01,286.99 478.43,288.30 478.93,290.29 477.20,289.20 475.47,290.29 475.97,288.30 474.39,286.99 476.44,286.85" fill="#000"/>
<polygon points="483.10,284.95 483.86,286.85 485.91,286.99 484.33,288.30 484.83,290.29 483.10,289.20 481.37,290.29 481.87,288.30 480.29,286.99 482.34,286.85" fill="#000"/>
<text x="378.75" y="303.5" font-size="6.7" font-family="Liberation Sans, sans-serif" text-anchor="middle" fill="#000" font-weight="bold" stroke="#000" stroke-width="0.25" textLength="7.8" lengthAdjust="spacingAndGlyphs" >0/1</text>
<text x="399.25" y="303.5" font-size="6.7" font-family="Liberation Sans, sans-serif" text-anchor="middle" fill="#000" font-weight="bold" stroke="#000" stroke-width="0.25" textLength="12" lengthAdjust="spacingAndGlyphs" >1/16</text>
<text x="419.4" y="303.5" font-size="6.7" font-family="Liberation Sans, sans-serif" text-anchor="middle" fill="#000" font-weight="bold" stroke="#000" stroke-width="0.25" textLength="7.8" lengthAdjust="spacingAndGlyphs" >1/8</text>
<text x="439.5" y="303.5" font-size="6.7" font-family="Liberation Sans, sans-serif" text-anchor="middle" fill="#000" font-weight="bold" stroke="#000" stroke-width="0.25" textLength="7.8" lengthAdjust="spacingAndGlyphs" >1/4</text>
<text x="460" y="303.5" font-size="6.7" font-family="Liberation Sans, sans-serif" text-anchor="middle" fill="#000" font-weight="bold" stroke="#000" stroke-width="0.25" textLength="7.8" lengthAdjust="spacingAndGlyphs" >1/2</text>
<text x="480" y="303.5" font-size="6.7" font-family="Liberation Sans, sans-serif" text-anchor="middle" fill="#000" font-weight="bold" stroke="#000" stroke-width="0.25" textLength="7.8" lengthAdjust="spacingAndGlyphs" >1/1</text>
<line x1="376.3" y1="311" x2="485" y2="311" stroke="#222" stroke-width="0.8"/>
<text x="406.3" y="319.8" font-size="6.6" font-family="Liberation Sans, sans-serif" text-anchor="start" fill="#000" stroke="#000" stroke-width="0.12" textLength="48.2" lengthAdjust="spacingAndGlyphs" >MDSC/SPC ratio</text>
<line x1="372" y1="181.3" x2="382.5" y2="181.3" stroke="#000" stroke-width="1"/>
<circle cx="377.4" cy="181.3" r="2.5" fill="#000"/>
<line x1="372" y1="193.3" x2="382.5" y2="193.3" stroke="#000" stroke-width="1"/>
<polygon points="377.4,191.0 379.5,194.885 375.29999999999995,194.885" fill="#fff" stroke="#000" stroke-width="1.1" stroke-linejoin="miter"/>
<text x="385" y="183.9" font-size="7.4" font-family="Liberation Sans, sans-serif" text-anchor="start" fill="#000" stroke="#000" stroke-width="0.12" textLength="35.8" lengthAdjust="spacingAndGlyphs" >PMN-MDSC</text>
<text x="385" y="195.9" font-size="7.4" font-family="Liberation Sans, sans-serif" text-anchor="start" fill="#000" stroke="#000" stroke-width="0.12" textLength="31.8" lengthAdjust="spacingAndGlyphs" >MO-MDSC</text>
</svg>
</body></html>
